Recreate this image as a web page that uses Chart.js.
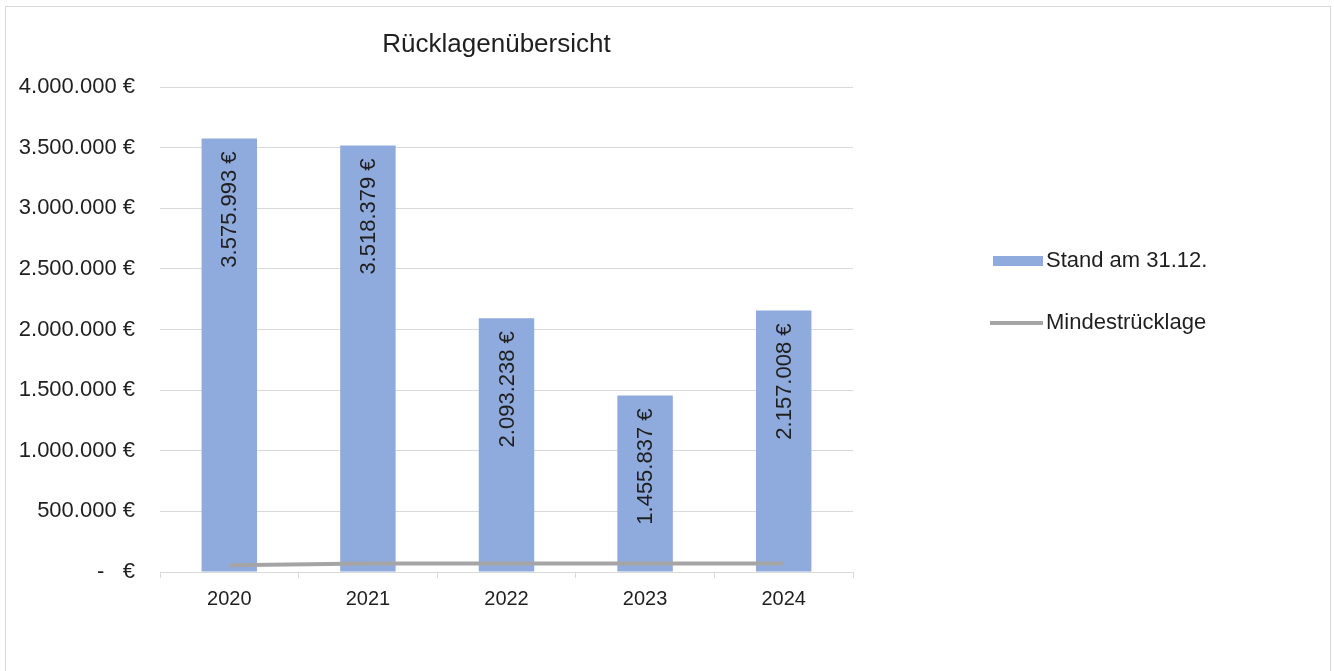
<!DOCTYPE html>
<html>
<head>
<meta charset="utf-8">
<script src="https://cdn.jsdelivr.net/npm/chart.js@4"></script>
<style>
  html, body { margin: 0; padding: 0; background: #fff; }
  #wrap { position: relative; width: 1334px; height: 671px; overflow: hidden; }
  #frame { position: absolute; left: 5px; top: 6px; width: 1326px; height: 700px; border: 1px solid #d9d9d9; box-sizing: border-box; pointer-events: none; }
  canvas { position: absolute; left: 0; top: 0; }
</style>
</head>
<body>
<div id="wrap">
  <canvas id="c" width="1334" height="671"></canvas>
  <div id="frame"></div>
</div>
<script>
const chartTitle = 'Rücklagenübersicht';
const categories = ['2020', '2021', '2022', '2023', '2024'];
const standValues = [3575993, 3518379, 2093238, 1455837, 2157008];
const mindestValues = [55000, 70000, 70000, 70000, 70000];
const seriesNames = ['Stand am 31.12.', 'Mindestrücklage'];
const yTickValues = [0, 500000, 1000000, 1500000, 2000000, 2500000, 3000000, 3500000, 4000000];
const yTickLabels = ['-   €', '500.000 €', '1.000.000 €', '1.500.000 €', '2.000.000 €', '2.500.000 €', '3.000.000 €', '3.500.000 €', '4.000.000 €'];

const BAR_COLOR = '#8faadc';
const LINE_COLOR = '#a5a5a5';
const TEXT_COLOR = '#1f1f1f';
const FONT = '"Liberation Sans", Arial, sans-serif';

function fmtEuro(v) {
  return v.toLocaleString('de-DE') + ' €';
}

const extrasPlugin = {
  id: 'extras',
  afterDatasetsDraw(chart) {
    const ctx = chart.ctx;
    const meta = chart.getDatasetMeta(1);
    ctx.save();
    ctx.font = '22px ' + FONT;
    ctx.fillStyle = TEXT_COLOR;
    ctx.textBaseline = 'middle';
    ctx.textAlign = 'right';
    meta.data.forEach((bar, i) => {
      ctx.save();
      ctx.translate(bar.x + 1, bar.y + 13);
      ctx.rotate(-Math.PI / 2);
      ctx.fillText(fmtEuro(standValues[i]), 0, 0);
      ctx.restore();
    });
    ctx.restore();
  },
  afterDraw(chart) {
    const ctx = chart.ctx;
    const area = chart.chartArea;
    ctx.save();
    // title
    ctx.font = '26px ' + FONT;
    ctx.fillStyle = TEXT_COLOR;
    ctx.textAlign = 'center';
    ctx.textBaseline = 'middle';
    ctx.fillText(chartTitle, (area.left + area.right) / 2 - 10, 45);
    // legend
    const lx = area.right + 140;
    const y1 = 261, y2 = 323;
    ctx.fillStyle = BAR_COLOR;
    ctx.fillRect(lx, y1 - 5, 50, 10);
    ctx.strokeStyle = LINE_COLOR;
    ctx.lineWidth = 4;
    ctx.beginPath();
    ctx.moveTo(lx - 3, y2);
    ctx.lineTo(lx + 50, y2);
    ctx.stroke();
    ctx.font = '22px ' + FONT;
    ctx.fillStyle = TEXT_COLOR;
    ctx.textAlign = 'left';
    ctx.fillText(seriesNames[0], lx + 53, y1);
    ctx.fillText(seriesNames[1], lx + 53, y2);
    ctx.restore();
  }
};

new Chart(document.getElementById('c'), {
  data: {
    labels: categories,
    datasets: [
      {
        type: 'line',
        label: seriesNames[1],
        data: mindestValues,
        borderColor: LINE_COLOR,
        backgroundColor: LINE_COLOR,
        borderWidth: 4,
        pointRadius: 0,
        tension: 0,
        order: 0
      },
      {
        type: 'bar',
        label: seriesNames[0],
        data: standValues,
        backgroundColor: BAR_COLOR,
        borderWidth: 0,
        barPercentage: 0.4,
        categoryPercentage: 1.0,
        order: 1
      }
    ]
  },
  options: {
    responsive: false,
    animation: false,
    devicePixelRatio: 1,
    layout: { padding: { left: 17, right: 481, top: 87, bottom: 51 } },
    plugins: {
      legend: { display: false },
      title: { display: false },
      tooltip: { enabled: false }
    },
    scales: {
      x: {
        type: 'category',
        offset: true,
        grid: {
          offset: true,
          drawOnChartArea: false,
          drawTicks: true,
          tickLength: 6,
          color: '#d9d9d9'
        },
        border: { display: true, color: '#d9d9d9', width: 1 },
        ticks: {
          color: TEXT_COLOR,
          font: { family: FONT, size: 20 },
          padding: 9
        }
      },
      y: {
        min: 0,
        max: 4000000,
        afterBuildTicks(axis) {
          axis.ticks = yTickValues.map(v => ({ value: v }));
        },
        afterFit(axis) {
          axis.width = 143;
        },
        grid: {
          color: '#d9d9d9',
          drawTicks: false,
          lineWidth: 1
        },
        border: { display: false },
        ticks: {
          color: TEXT_COLOR,
          font: { family: FONT, size: 22 },
          padding: 25,
          callback(value) {
            const i = yTickValues.indexOf(value);
            return i >= 0 ? yTickLabels[i] : '';
          }
        }
      }
    }
  },
  plugins: [extrasPlugin]
});
</script>
</body>
</html>
